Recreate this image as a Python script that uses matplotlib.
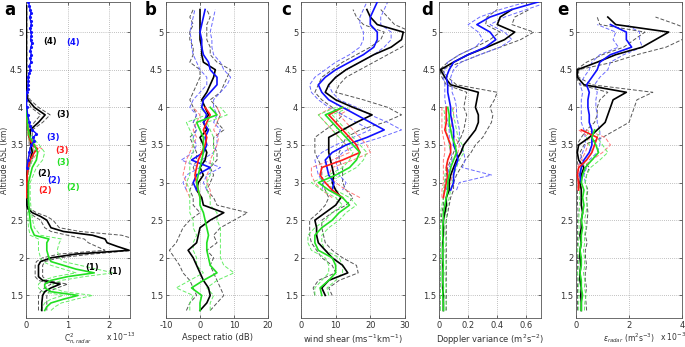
import numpy as np
import matplotlib
matplotlib.use("Agg")
import matplotlib.pyplot as plt

def alts(a, b):
    return np.round(np.arange(a, b + 0.001, 0.1), 2)

# ---------------- Panel a: Cn2 (x 1e-13) ----------------
a_K_alt = [1.3,1.4,1.5,1.55,1.6,1.65,1.7,1.75,1.8,1.9,1.95,2.0,2.05,2.1,2.15,2.2,2.25,2.3,2.35,2.4,
           2.5,2.55,2.6,2.65,2.7,2.9,3.1,3.2,3.3,3.4,3.5,3.6,3.7,3.8,3.9,4.0,4.1,4.2,4.6,5.0,5.35]
a_K_m  = [0.38,0.38,0.4,0.45,0.6,0.82,0.4,0.3,0.3,0.3,0.35,0.6,1.2,2.48,2.2,1.95,1.9,1.6,0.9,0.6,
          0.5,0.35,0.15,0.05,0.02,0.02,0.02,0.05,0.1,0.15,0.12,0.1,0.1,0.3,0.46,0.2,0.05,0.01,0.01,0.01,0.01]
a_K_lo = [0.3,0.3,0.3,0.35,0.45,0.6,0.3,0.22,0.22,0.22,0.25,0.4,0.8,1.9,1.7,1.5,1.4,1.0,0.6,0.45,
          0.35,0.2,0.08,0.02,0.01,0.01,0.01,0.03,0.06,0.1,0.08,0.06,0.06,0.2,0.35,0.12,0.02,0,0,0,0]
a_K_hi = [0.5,0.5,0.5,0.55,0.75,1.0,0.5,0.4,0.4,0.4,0.45,0.8,1.6,2.6,2.6,2.5,2.6,2.3,1.3,0.8,
          0.65,0.5,0.25,0.1,0.04,0.03,0.03,0.08,0.15,0.2,0.18,0.15,0.15,0.4,0.58,0.3,0.1,0.02,0.02,0.02,0.02]

a_G_alt = [1.3,1.35,1.4,1.45,1.5,1.55,1.6,1.65,1.7,1.75,1.8,1.85,1.9,1.95,2.0,2.1,2.2,2.25,2.3,2.4,
           2.5,2.6,2.8,3.0,3.2,3.3,3.4,3.5,3.6,3.7,3.8,3.9,4.0]
a_G_m  = [0.45,0.5,0.6,0.9,1.25,0.6,0.45,0.45,0.6,1.0,1.64,1.2,0.9,0.6,0.55,0.5,0.5,0.55,0.2,0.12,
          0.1,0.08,0.06,0.06,0.15,0.25,0.28,0.2,0.1,0.05,0.03,0.02,0.01]
a_G_lo = [0.35,0.4,0.45,0.6,0.9,0.4,0.3,0.3,0.4,0.7,1.2,0.9,0.6,0.4,0.35,0.3,0.3,0.3,0.1,0.06,
          0.05,0.04,0.03,0.03,0.08,0.15,0.18,0.12,0.05,0.02,0.01,0.0,0.0]
a_G_hi = [0.6,0.7,0.85,1.2,1.6,0.9,0.65,0.65,0.85,1.4,2.1,1.7,1.3,0.9,0.8,0.75,0.8,0.85,0.35,0.2,
          0.16,0.13,0.1,0.1,0.25,0.4,0.45,0.32,0.16,0.08,0.05,0.04,0.02]

a_R_alt = [2.8,2.9,3.0,3.1,3.2,3.3,3.4,3.45,3.5,3.6,3.7,3.8,3.9,4.0]
a_R_m  = [0.01,0.01,0.02,0.03,0.05,0.1,0.2,0.28,0.15,0.08,0.05,0.03,0.02,0.01]
a_R_lo = [0,0,0.01,0.01,0.03,0.06,0.12,0.18,0.1,0.05,0.03,0.01,0.01,0]
a_R_hi = [0.02,0.02,0.03,0.05,0.08,0.15,0.28,0.38,0.22,0.12,0.08,0.05,0.03,0.02]

a_B_alt = [3.2,3.3,3.4,3.5,3.55,3.6,3.65,3.7,3.75,3.8,3.9,4.0,4.1,
           4.2,4.25,4.3,4.35,4.4,4.45,4.5,4.55,4.6,4.65,4.7,4.75,4.8,4.85,4.9,4.95,5.0,5.05,5.1,5.15,5.2,5.25,5.3,5.35,5.4]
a_B_m  = [0.02,0.05,0.08,0.12,0.2,0.18,0.25,0.15,0.1,0.08,0.04,0.02,0.01,
          0.02,0.04,0.05,0.06,0.05,0.08,0.1,0.08,0.12,0.1,0.13,0.1,0.12,0.14,0.11,0.13,0.12,0.1,0.13,0.11,0.09,0.12,0.1,0.08,0.06]

a_labels = [("(4)", 0.58, 4.88, "k"), ("(4)", 1.14, 4.86, "b"), ("(3)", 0.9, 3.9, "k"),
            ("(3)", 0.66, 3.6, "b"), ("(3)", 0.86, 3.42, "r"), ("(3)", 0.9, 3.27, "g"),
            ("(2)", 0.44, 3.12, "k"), ("(2)", 0.68, 3.03, "b"), ("(2)", 0.45, 2.9, "r"),
            ("(2)", 1.12, 2.93, "g"), ("(1)", 1.6, 1.87, "k"), ("(1)", 2.15, 1.82, "k")]

# ---------------- Panel b: Aspect ratio (dB) ----------------
b_K_alt = alts(1.3, 5.3)
b_K_m  = [0,2,3,2.5,1,0,-1,-2,-3.5,-1,-0.5,0,3,7,1,0.5,-1,-0.5,1,0,1.5,2,1,0,2,1,2.5,1.5,0.5,2,3,4,4.5,1,0.5,0.5,0,0,0,0,0]
b_K_lo = [-4,-3,-1,-2,-3,-5,-6,-7.5,-9,-7,-6,-5,-3,0,-2,-2,-3,-2,-1,-2,-1,-1,-2,-3,-1,-2,-1,-2,-3,-2,-1,0,0,-3,-2,-2,-3,-3,-2,-3,-2]
b_K_hi = [3,5,7,6,5,4,3,4,2,5,4,6,10,14,5,4,2,3,4,3,5,5,4,4,7,5,6,5,3,6,7,8,9,5,3,3,2,2,2,3,2]

b_B_alt = alts(2.9, 5.3)
b_B_m  = [-1,-2,-1,3,-2.5,1,2,1.5,2.5,1,2,0.5,1,3,5,5,3,2.5,1,0.5,0.5,0,0.5,1,1.5]
b_B_lo = [-4,-5,-4,0,-5.5,-2,-1,-2,-1,-2,-1,-3,-2,0,2,2,0,-1,-2,-2.5,-2.5,-3,-2.5,-2,-1.5]
b_B_hi = [2,1,2,6,0.5,4,5,5,6,4,5,4,4,6,8,9,7,6,4,3.5,3.5,3,3.5,4,4.5]

b_R_alt = alts(2.8, 4.0)
b_R_m  = [0,-0.5,-1,-1.5,-1,-0.5,0.5,1.5,2,1,2,3,1.5]
b_R_lo = [-3,-4,-4,-5,-4.5,-4,-3,-2,-1,-2,-1,0,-2]
b_R_hi = [3,3,2,2,3,3,4,5,5.5,4,5,6,5]

b_G_alt = alts(1.3, 4.0)
b_G_m  = [0,0,0.5,-2.5,1,5,3,2.5,2,2,2.5,2,1.5,1,0,0,-0.5,-1,-0.5,0,0.5,1,1,1,0,-1,5,3]
b_G_lo = [-3,-3,-2,-7,-3,1,-1,-1,-2,-2,-1,-2,-2,-3,-3,-3,-3,-4,-3,-3,-3,-2,-2,-2,-3,-4,2,0]
b_G_hi = [3,3,4,2,5,10,7,6,6,6,6,6,5,5,3,3,2,2,3,3,4,4,4,4,3,2,8,6]

# ---------------- Panel c: wind shear ----------------
c_K_alt = alts(1.5, 5.3)
c_K_m  = [7,6,8,13.5,12,9,7,5,4.5,4.5,4,7,10,11.5,10,9,9.5,9,8.5,8,8,8,12,16,20.5,15,10,7,8,10,13,17,21,26,29,29.5,22,20,19]
c_K_lo = [4,3.5,5,10,9,6,4.5,3,2.5,2.5,2.5,5,7,8,7,6,6,6,5,4,4,4,7,10,12,9,6,4,5,6,9,12,16,20,23,24,18,16,15]
c_K_hi = [9,8,11,16.5,16,12,9,7,6.5,6,6,9,13,15,13,12,12,12,11,11,12,13,17,24,29,25,18,10,11,13,17,21,25,29,32,32,27,25,23]

c_B_alt = alts(2.9, 5.4)
c_B_m  = [9,9.5,8,7.5,7,9,13,19,24,20,16,12,8,6,5,7,10,14,18,21,22,22,20,20,21,22]
c_B_lo = [6,6.5,5,4.5,4,6,10,15,20,16,12,8,5,3,2.5,4,7,10,14,17,18,18,17,17,18,19]
c_B_hi = [12,13,11,10.5,10,12,16,23,29,25,20,16,11,9,8,10,13,17,21,24,26,26,23,23,24,25]

c_R_alt = alts(2.8, 4.0)
c_R_m  = [12,9,7,5.5,6,12,17,16,14,12,10,8,12]
c_R_lo = [9,6,4,3,3,9,14,13,11,9,7,5,9]
c_R_hi = [17,13,10,8,9,15,20,19,17,15,13,11,15]

c_G_alt = alts(1.5, 4.0)
c_G_m  = [6,5.5,8,10,10,9,5,4,4,6,9,11,14,12,8,5,10,14,16,17,15,13,11,9,7,12]
c_G_lo = [4,4,6,8,8,7,3,2,2,4,7,9,12,10,6,3,8,12,14,15,13,11,9,7,5,10]
c_G_hi = [8,7.5,10,12,12,11,7,6,6,8,11,13,16,14,10,7,12,16,18,19,17,15,13,11,9,14]

# ---------------- Panel d: Doppler variance ----------------
d_K_alt = alts(1.3, 5.3)
d_K_m  = [0.03,0.03,0.03,0.025,0.025,0.025,0.025,0.025,0.025,0.025,0.03,0.03,0.03,0.04,0.05,0.05,0.07,0.07,0.08,0.1,
          0.12,0.15,0.17,0.21,0.25,0.27,0.27,0.25,0.26,0.27,0.08,0.04,0.01,0.1,0.2,0.33,0.45,0.52,0.4,0.42,0.5]
d_K_lo = [0.01,0.01,0.01,0.01,0.01,0.01,0.01,0.01,0.01,0.01,0.01,0.01,0.015,0.02,0.03,0.03,0.04,0.04,0.05,0.06,
          0.08,0.1,0.12,0.15,0.17,0.18,0.19,0.17,0.18,0.19,0.05,0.02,0.005,0.06,0.14,0.25,0.35,0.42,0.32,0.33,0.4]
d_K_hi = [0.05,0.05,0.05,0.05,0.05,0.05,0.05,0.05,0.05,0.05,0.05,0.05,0.05,0.06,0.07,0.08,0.1,0.1,0.12,0.15,
          0.18,0.22,0.25,0.3,0.33,0.36,0.37,0.35,0.38,0.4,0.12,0.06,0.02,0.15,0.28,0.42,0.56,0.65,0.5,0.52,0.62]

d_B_alt = alts(2.9, 5.4)
d_B_m  = [0.08,0.1,0.1,0.11,0.13,0.12,0.1,0.1,0.1,0.09,0.08,0.08,0.07,0.06,0.06,0.05,0.07,0.1,0.2,0.32,0.39,0.35,0.26,0.35,0.5,0.68]
d_B_lo = [0.05,0.06,0.06,0.07,0.09,0.08,0.07,0.07,0.07,0.06,0.05,0.05,0.04,0.04,0.04,0.03,0.04,0.06,0.14,0.25,0.3,0.27,0.2,0.28,0.42,0.6]
d_B_hi = [0.12,0.14,0.36,0.16,0.18,0.17,0.14,0.14,0.14,0.13,0.12,0.12,0.11,0.09,0.09,0.08,0.1,0.15,0.28,0.42,0.5,0.45,0.35,0.45,0.6,0.75]

d_R_alt = alts(2.8, 4.0)
d_R_m  = [0.03,0.04,0.05,0.06,0.05,0.06,0.08,0.08,0.06,0.04,0.05,0.05,0.05]
d_R_lo = [0.02,0.02,0.03,0.03,0.03,0.03,0.04,0.04,0.03,0.02,0.02,0.02,0.02]
d_R_hi = [0.05,0.06,0.08,0.09,0.08,0.1,0.13,0.14,0.11,0.08,0.09,0.1,0.1]

d_G_alt = alts(1.3, 4.0)
d_G_m  = [0.03,0.03,0.025,0.03,0.025,0.025,0.03,0.025,0.025,0.03,0.025,0.025,0.03,0.03,
          0.04,0.05,0.06,0.06,0.07,0.08,0.1,0.12,0.11,0.09,0.08,0.07,0.07,0.06]
d_G_lo = [0.01,0.01,0.01,0.01,0.01,0.01,0.01,0.01,0.01,0.01,0.01,0.01,0.01,0.01,
          0.02,0.03,0.03,0.04,0.04,0.05,0.06,0.08,0.07,0.06,0.05,0.04,0.04,0.03]
d_G_hi = [0.045,0.05,0.04,0.05,0.045,0.04,0.05,0.045,0.04,0.05,0.045,0.04,0.05,0.05,
          0.06,0.07,0.08,0.09,0.1,0.12,0.14,0.17,0.16,0.13,0.12,0.11,0.1,0.09]

# ---------------- Panel e: epsilon (x 1e-3) ----------------
e_K_alt = alts(1.3, 5.2)
e_K_m  = [0.2,0.2,0.18,0.2,0.15,0.15,0.18,0.15,0.15,0.2,0.15,0.2,0.2,0.25,0.2,
          0.2,0.2,0.15,0.2,0.3,0.1,0.05,0.1,0.5,0.8,1.1,1.2,1.3,1.4,1.9,0.3,0.05,0.05,0.8,1.5,2.5,3.0,3.5,1.5,1.2]
e_K_lo = [0.05,0.06,0.05,0.06,0.04,0.05,0.06,0.05,0.04,0.06,0.05,0.06,0.06,0.08,0.06,
          0.05,0.05,0.03,0.05,0.1,0.03,0.01,0.03,0.2,0.4,0.7,0.8,0.8,0.9,1.2,0.15,0.01,0.01,0.4,1.0,1.8,2.2,2.6,0.9,0.8]
e_K_hi = [0.4,0.38,0.35,0.4,0.35,0.35,0.4,0.36,0.35,0.42,0.35,0.4,0.42,0.45,0.42,
          0.4,0.45,0.35,0.4,0.5,0.25,0.15,0.3,1.0,1.5,2.0,2.1,2.2,2.3,2.9,0.6,0.1,0.1,1.4,2.3,3.4,4.0,4.5,3.8,3.0]

e_B_alt = alts(3.0, 5.1)
e_B_m  = [0.2,0.15,0.2,0.3,0.5,0.6,0.6,0.6,0.5,0.5,0.45,0.45,0.5,0.4,0.6,0.8,0.9,1.3,2.1,1.9,1.9,1.3]
e_B_lo = [0.1,0.08,0.1,0.15,0.25,0.35,0.35,0.3,0.2,0.2,0.2,0.2,0.25,0.15,0.3,0.5,0.6,0.9,1.6,1.4,1.5,0.8]
e_B_hi = [0.35,0.3,0.4,0.5,0.8,0.9,0.9,0.9,0.8,0.8,0.75,0.75,0.8,0.7,0.9,1.2,1.3,1.8,2.5,2.4,2.4,1.9]

e_R_alt = alts(2.9, 3.7)
e_R_m  = [0.1,0.1,0.05,0.1,0.4,0.6,0.7,0.8,0.2]
e_R_lo = [0.05,0.05,0.02,0.05,0.2,0.35,0.45,0.5,0.1]
e_R_hi = [0.2,0.2,0.1,0.2,0.6,1.0,1.3,1.1,0.4]

e_G_alt = alts(1.3, 3.7)
e_G_m  = [0.2,0.2,0.25,0.2,0.2,0.15,0.2,0.2,0.15,0.2,0.2,0.25,0.2,0.25,0.3,0.25,0.3,
          0.2,0.25,0.35,0.6,0.85,0.75,0.6,0.7]
e_G_lo = [0.1,0.1,0.12,0.1,0.1,0.06,0.1,0.1,0.06,0.1,0.1,0.12,0.1,0.12,0.15,0.12,0.15,
          0.1,0.12,0.2,0.4,0.6,0.5,0.4,0.5]
e_G_hi = [0.32,0.33,0.38,0.32,0.33,0.28,0.33,0.32,0.28,0.33,0.32,0.38,0.32,0.38,0.42,0.38,0.42,
          0.35,0.4,0.55,0.9,1.2,1.0,0.8,0.9]

# ---------------- styling ----------------
MAIN = {"K": "#000000", "B": "#1010ff", "R": "#ff1a1a", "G": "#22e022"}
DASH = {"K": "#555555", "B": "#6a6aff", "R": "#ff7a7a", "G": "#66ee66"}
LBLC = {"k": "#000000", "b": "#1010ff", "r": "#ff1a1a", "g": "#22e022"}

fig = plt.figure(figsize=(6.85, 3.47), dpi=100)
W, H = 685.0, 347.0
def pos(l, r):
    return [l / W, (H - 318) / H, (r - l) / W, 316 / H]

panels = [
    dict(p=pos(26, 130), xlim=(0, 2.5), xt=[0, 1, 2], xtl=["0", "1", "2"],
         xl=r"C$^2_{n,radar}$", letter="a", lx=4,
         series={"K": (a_K_alt, a_K_m, a_K_lo, a_K_hi), "G": (a_G_alt, a_G_m, a_G_lo, a_G_hi),
                 "R": (a_R_alt, a_R_m, a_R_lo, a_R_hi)}),
    dict(p=pos(166, 268), xlim=(-10, 20), xt=[-10, 0, 10, 20], xtl=["-10", "0", "10", "20"],
         xl="Aspect ratio (dB)", letter="b", lx=145,
         series={"K": (b_K_alt, b_K_m, b_K_lo, b_K_hi), "B": (b_B_alt, b_B_m, b_B_lo, b_B_hi),
                 "R": (b_R_alt, b_R_m, b_R_lo, b_R_hi), "G": (b_G_alt, b_G_m, b_G_lo, b_G_hi)}),
    dict(p=pos(301, 405), xlim=(0, 30), xt=[0, 10, 20, 30], xtl=["0", "10", "20", "30"],
         xl=r"wind shear (ms$^{-1}$km$^{-1}$)", letter="c", lx=281,
         series={"K": (c_K_alt, c_K_m, c_K_lo, c_K_hi), "B": (c_B_alt, c_B_m, c_B_lo, c_B_hi),
                 "R": (c_R_alt, c_R_m, c_R_lo, c_R_hi), "G": (c_G_alt, c_G_m, c_G_lo, c_G_hi)}),
    dict(p=pos(439, 541), xlim=(0, 0.7), xt=[0, 0.2, 0.4, 0.6], xtl=["0", "0.2", "0.4", "0.6"],
         xl=r"Doppler variance (m$^2$s$^{-2}$)", letter="d", lx=421,
         series={"K": (d_K_alt, d_K_m, d_K_lo, d_K_hi), "B": (d_B_alt, d_B_m, d_B_lo, d_B_hi),
                 "R": (d_R_alt, d_R_m, d_R_lo, d_R_hi), "G": (d_G_alt, d_G_m, d_G_lo, d_G_hi)}),
    dict(p=pos(576, 682), xlim=(0, 4), xt=[0, 2, 4], xtl=["0", "2", "4"],
         xl=r"$\epsilon_{radar}$ (m$^2$s$^{-3}$)", letter="e", lx=557,
         series={"K": (e_K_alt, e_K_m, e_K_lo, e_K_hi), "B": (e_B_alt, e_B_m, e_B_lo, e_B_hi),
                 "R": (e_R_alt, e_R_m, e_R_lo, e_R_hi), "G": (e_G_alt, e_G_m, e_G_lo, e_G_hi)}),
]

for i, P in enumerate(panels):
    ax = fig.add_axes(P["p"])
    for key in ["K", "B", "R", "G"]:
        if key not in P["series"]:
            continue
        al, m, lo, hi = P["series"][key]
        ax.plot(lo, al, ls=(0, (4, 2)), color=DASH[key], lw=0.7, zorder=2)
        ax.plot(hi, al, ls=(0, (4, 2)), color=DASH[key], lw=0.7, zorder=2)
    for key in ["K", "B", "R", "G"]:
        if key not in P["series"]:
            continue
        al, m, lo, hi = P["series"][key]
        ax.plot(m, al, color=MAIN[key], lw=1.2, zorder=3)
    if i == 0:
        ax.plot(a_B_m, a_B_alt, color=MAIN["B"], lw=1.0, marker=".", ms=2.5, zorder=4)
        for t, x, y, c in a_labels:
            ax.text(x, y, t, color=LBLC[c], fontsize=6, fontweight="bold",
                    ha="center", va="center", zorder=5)
        ax.text(0.77, -0.06, r"x 10$^{-13}$", transform=ax.transAxes, fontsize=5.5,
                ha="left", va="center", color="#333333")
    if i == 4:
        ax.text(0.79, -0.06, r"x 10$^{-3}$", transform=ax.transAxes, fontsize=5.5,
                ha="left", va="center", color="#333333")
    ax.set_xlim(*P["xlim"])
    ax.set_ylim(1.2, 5.4)
    ax.set_xticks(P["xt"])
    ax.set_xticklabels(P["xtl"])
    ax.set_yticks([1.5, 2, 2.5, 3, 3.5, 4, 4.5, 5])
    ax.set_yticklabels(["1.5", "2", "2.5", "3", "3.5", "4", "4.5", "5"])
    ax.tick_params(direction="in", length=2, width=0.5, labelsize=6, pad=2,
                   colors="#333333", top=True, right=True)
    ax.grid(True, ls=(0, (1, 2)), color="#888888", lw=0.5)
    for s in ax.spines.values():
        s.set_color("#555555")
        s.set_linewidth(0.6)
    ax.set_ylabel("Altitude ASL (km)", fontsize=5.5, labelpad=1, color="#333333")
    if i in (0, 4):
        ax.set_xlabel(P["xl"], fontsize=5.5, labelpad=1, color="#333333")
    else:
        ax.set_xlabel(P["xl"], fontsize=6, labelpad=2, color="#333333")
    fig.text(P["lx"] / W, 1 - 1 / H, P["letter"], fontsize=12, fontweight="bold",
             ha="left", va="top")

fig.savefig("out.png", dpi=100)
